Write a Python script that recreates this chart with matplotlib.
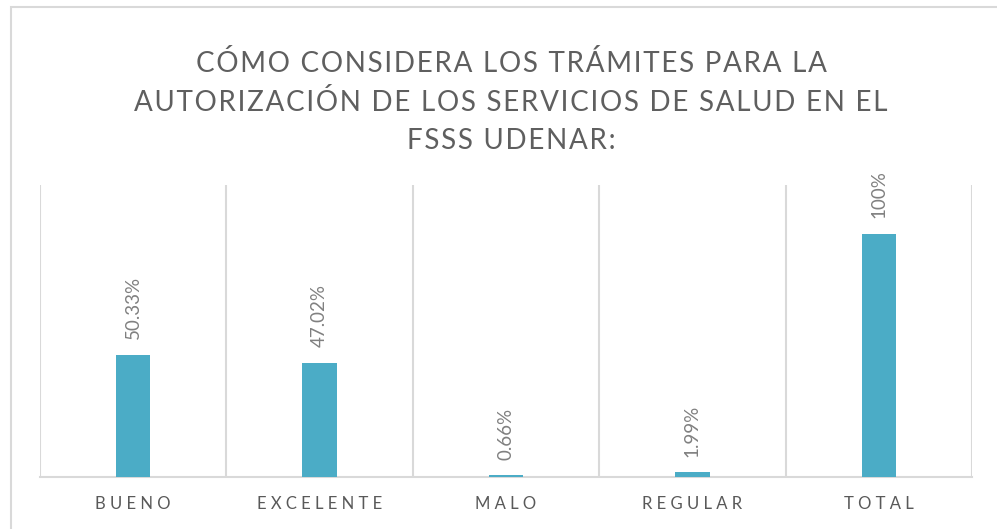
import matplotlib
matplotlib.use('Agg')
from matplotlib import pyplot as plt
from matplotlib.patches import Rectangle

categories = ['BUENO', 'EXCELENTE', 'MALO', 'REGULAR', 'TOTAL']
values = [50.33, 47.02, 0.66, 1.99, 100]
value_labels = ['50.33%', '47.02%', '0.66%', '1.99%', '100%']
title_lines = [
    'CÓMO CONSIDERA LOS TRÁMITES PARA LA',
    'AUTORIZACIÓN DE LOS SERVICIOS DE SALUD EN EL',
    'FSSS UDENAR:',
]

BAR = '#4BACC6'
GRID = '#d9d9d9'
TEXT = '#595959'
FONT = ['Lato', 'DejaVu Sans']


def spaced(s, sep):
    return sep.join(s)


fig = plt.figure(figsize=(9.97, 5.29), dpi=100)
W, H = 997, 529

# chart border
fig.patches.append(Rectangle((11 / W, -0.1), 1.1, (529 - 7) / H + 0.1,
                             transform=fig.transFigure, fill=False,
                             edgecolor=GRID, lw=1.5))

ax = fig.add_axes([40 / W, (529 - 477) / H, (972 - 40) / W, (477 - 185) / H])
x = range(len(categories))
ax.bar(x, values, width=0.185, color=BAR, zorder=3)
ax.set_xlim(-0.5, len(categories) - 0.5)
ax.set_ylim(0, 120)

for b in [i - 0.5 for i in range(len(categories) + 1)]:
    ax.axvline(b, color=GRID, lw=1.5, zorder=1)

for s in ['top', 'right', 'left']:
    ax.spines[s].set_visible(False)
ax.spines['bottom'].set_color(GRID)
ax.spines['bottom'].set_linewidth(1.5)
ax.set_yticks([])
ax.set_xticks(list(x))
ax.set_xticklabels([spaced(c, ' ') for c in categories], family=FONT,
                   fontsize=12, color=TEXT)
ax.tick_params(axis='x', length=0, pad=14)

for i, (v, lab) in enumerate(zip(values, value_labels)):
    ax.annotate(lab, (i, v), xytext=(0, 11), textcoords='offset points',
                rotation=90, ha='center', va='bottom', family=FONT,
                fontsize=13.5, color='#808080')

for k, line in enumerate(title_lines):
    fig.text(511 / W, 1 - (63 + 39 * k) / H, spaced(line, '\u200a'),
             ha='center', va='center', family=FONT, fontsize=20,
             color='#5f5f5f')

fig.savefig('out.png', dpi=100)
